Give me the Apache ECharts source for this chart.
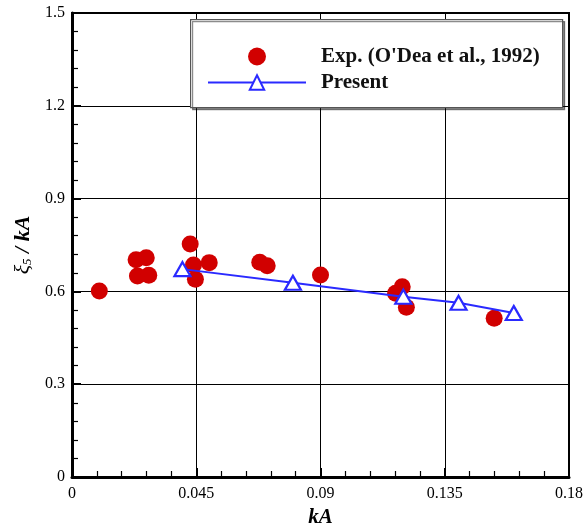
<!DOCTYPE html>
<html>
<head>
<meta charset="utf-8">
<script src="https://cdn.jsdelivr.net/npm/echarts@6/dist/echarts.min.js"></script>
<style>html,body{margin:0;padding:0;background:#fff;overflow:hidden}#c{width:584px;height:524px}</style>
</head>
<body>
<div id="c"></div>
<script>
// Experimental data (O'Dea et al., 1992): kA and xi5/kA
const expKA = [0.0099, 0.0232, 0.0269, 0.0237, 0.0278, 0.0428, 0.0440, 0.0447, 0.0497, 0.0680, 0.0707, 0.0900, 0.1172, 0.1196, 0.1211, 0.1529];
const expXi = [0.601, 0.702, 0.709, 0.650, 0.652, 0.753, 0.685, 0.639, 0.693, 0.694, 0.683, 0.653, 0.594, 0.615, 0.549, 0.513];
// Present results
const presKA = [0.04, 0.08, 0.12, 0.14, 0.16];
const presXi = [0.672, 0.628, 0.583, 0.563, 0.530];
// Axis ticks
const xTicks = [0, 0.045, 0.09, 0.135, 0.18];
const yTicks = [0, 0.3, 0.6, 0.9, 1.2, 1.5];

const FONT = '"Liberation Serif", "Times New Roman", serif';
const chart = echarts.init(document.getElementById('c'));
const expData = expKA.map((x, i) => [x, expXi[i]]);
const presData = presKA.map((x, i) => [x, presXi[i]]);

chart.setOption({
  animation: false,
  grid: { left: 72, right: 15, top: 13, bottom: 47, show: true, borderColor: '#000', borderWidth: 2,
          containLabel: false, outerBoundsMode: 'none' },
  xAxis: {
    type: 'value', min: xTicks[0], max: xTicks[xTicks.length - 1], interval: 0.045,
    name: 'kA', nameLocation: 'middle', nameGap: 27,
    nameTextStyle: { fontFamily: FONT, fontSize: 21, fontWeight: 'bold', fontStyle: 'italic', color: '#000' },
    axisLine: { show: true, onZero: false, lineStyle: { color: '#000', width: 3 } },
    axisTick: { show: true, inside: true, length: 9, lineStyle: { color: '#000', width: 2 } },
    minorTick: { show: true, splitNumber: 5, length: 6, lineStyle: { color: '#000', width: 1.2 } },
    splitLine: { show: true, lineStyle: { color: '#000', width: 1 } },
    axisLabel: { fontFamily: FONT, fontSize: 16, color: '#000', margin: 9,
      formatter: v => { const t = xTicks.find(t => Math.abs(t - v) < 1e-9); return t === undefined ? '' : String(t); } }
  },
  yAxis: {
    type: 'value', min: yTicks[0], max: yTicks[yTicks.length - 1], interval: 0.3,
    name: '{a|ξ}{s|5}{b| / kA}', nameLocation: 'middle', nameGap: 33, nameRotate: 90,
    nameTextStyle: { fontFamily: FONT, color: '#000',
      rich: {
        a: { fontFamily: FONT, fontSize: 22, fontStyle: 'italic', color: '#000' },
        s: { fontFamily: FONT, fontSize: 13, fontStyle: 'italic', color: '#000', verticalAlign: 'bottom', padding: [8, 0, 0, 0] },
        b: { fontFamily: FONT, fontSize: 22, fontStyle: 'italic', fontWeight: 'bold', color: '#000' }
      } },
    axisLine: { show: true, onZero: false, lineStyle: { color: '#000', width: 3 } },
    axisTick: { show: true, inside: true, length: 9, lineStyle: { color: '#000', width: 2 } },
    minorTick: { show: true, splitNumber: 5, length: 6, lineStyle: { color: '#000', width: 1.2 } },
    splitLine: { show: true, lineStyle: { color: '#000', width: 1 } },
    axisLabel: { fontFamily: FONT, fontSize: 16, color: '#000', margin: 7,
      formatter: v => { const t = yTicks.find(t => Math.abs(t - v) < 1e-9); return t === undefined ? '' : String(t); } }
  },
  graphic: [{
    type: 'rect', z: 3, left: 190, top: 19,
    shape: { width: 372, height: 88 },
    style: { fill: '#fff', stroke: '#555', lineWidth: 1.2, shadowColor: 'rgba(0,0,0,0.45)', shadowOffsetX: 2, shadowOffsetY: 2, shadowBlur: 0 }
  }],
  legend: {
    z: 5, orient: 'vertical', left: 207, top: 46, itemWidth: 98, itemHeight: 18, itemGap: 5,
    padding: 0, selectedMode: false,
    textStyle: { fontFamily: FONT, fontSize: 21, fontWeight: 'bold', color: '#111', padding: [0, 0, 0, 10] },
    data: ["Exp. (O'Dea et al., 1992)", 'Present']
  },
  series: [
    {
      name: "Exp. (O'Dea et al., 1992)", type: 'scatter', data: expData, symbol: 'circle', symbolSize: 17,
      itemStyle: { color: '#d10000', opacity: 1 }, z: 2
    },
    {
      name: 'Present', type: 'line', data: presData, symbol: 'triangle', symbolSize: [16, 14],
      showAllSymbol: true,
      lineStyle: { color: '#2a2aff', width: 2 },
      itemStyle: { color: '#fff', borderColor: '#2a2aff', borderWidth: 2.2 }, z: 3
    }
  ]
});
</script>
</body>
</html>
